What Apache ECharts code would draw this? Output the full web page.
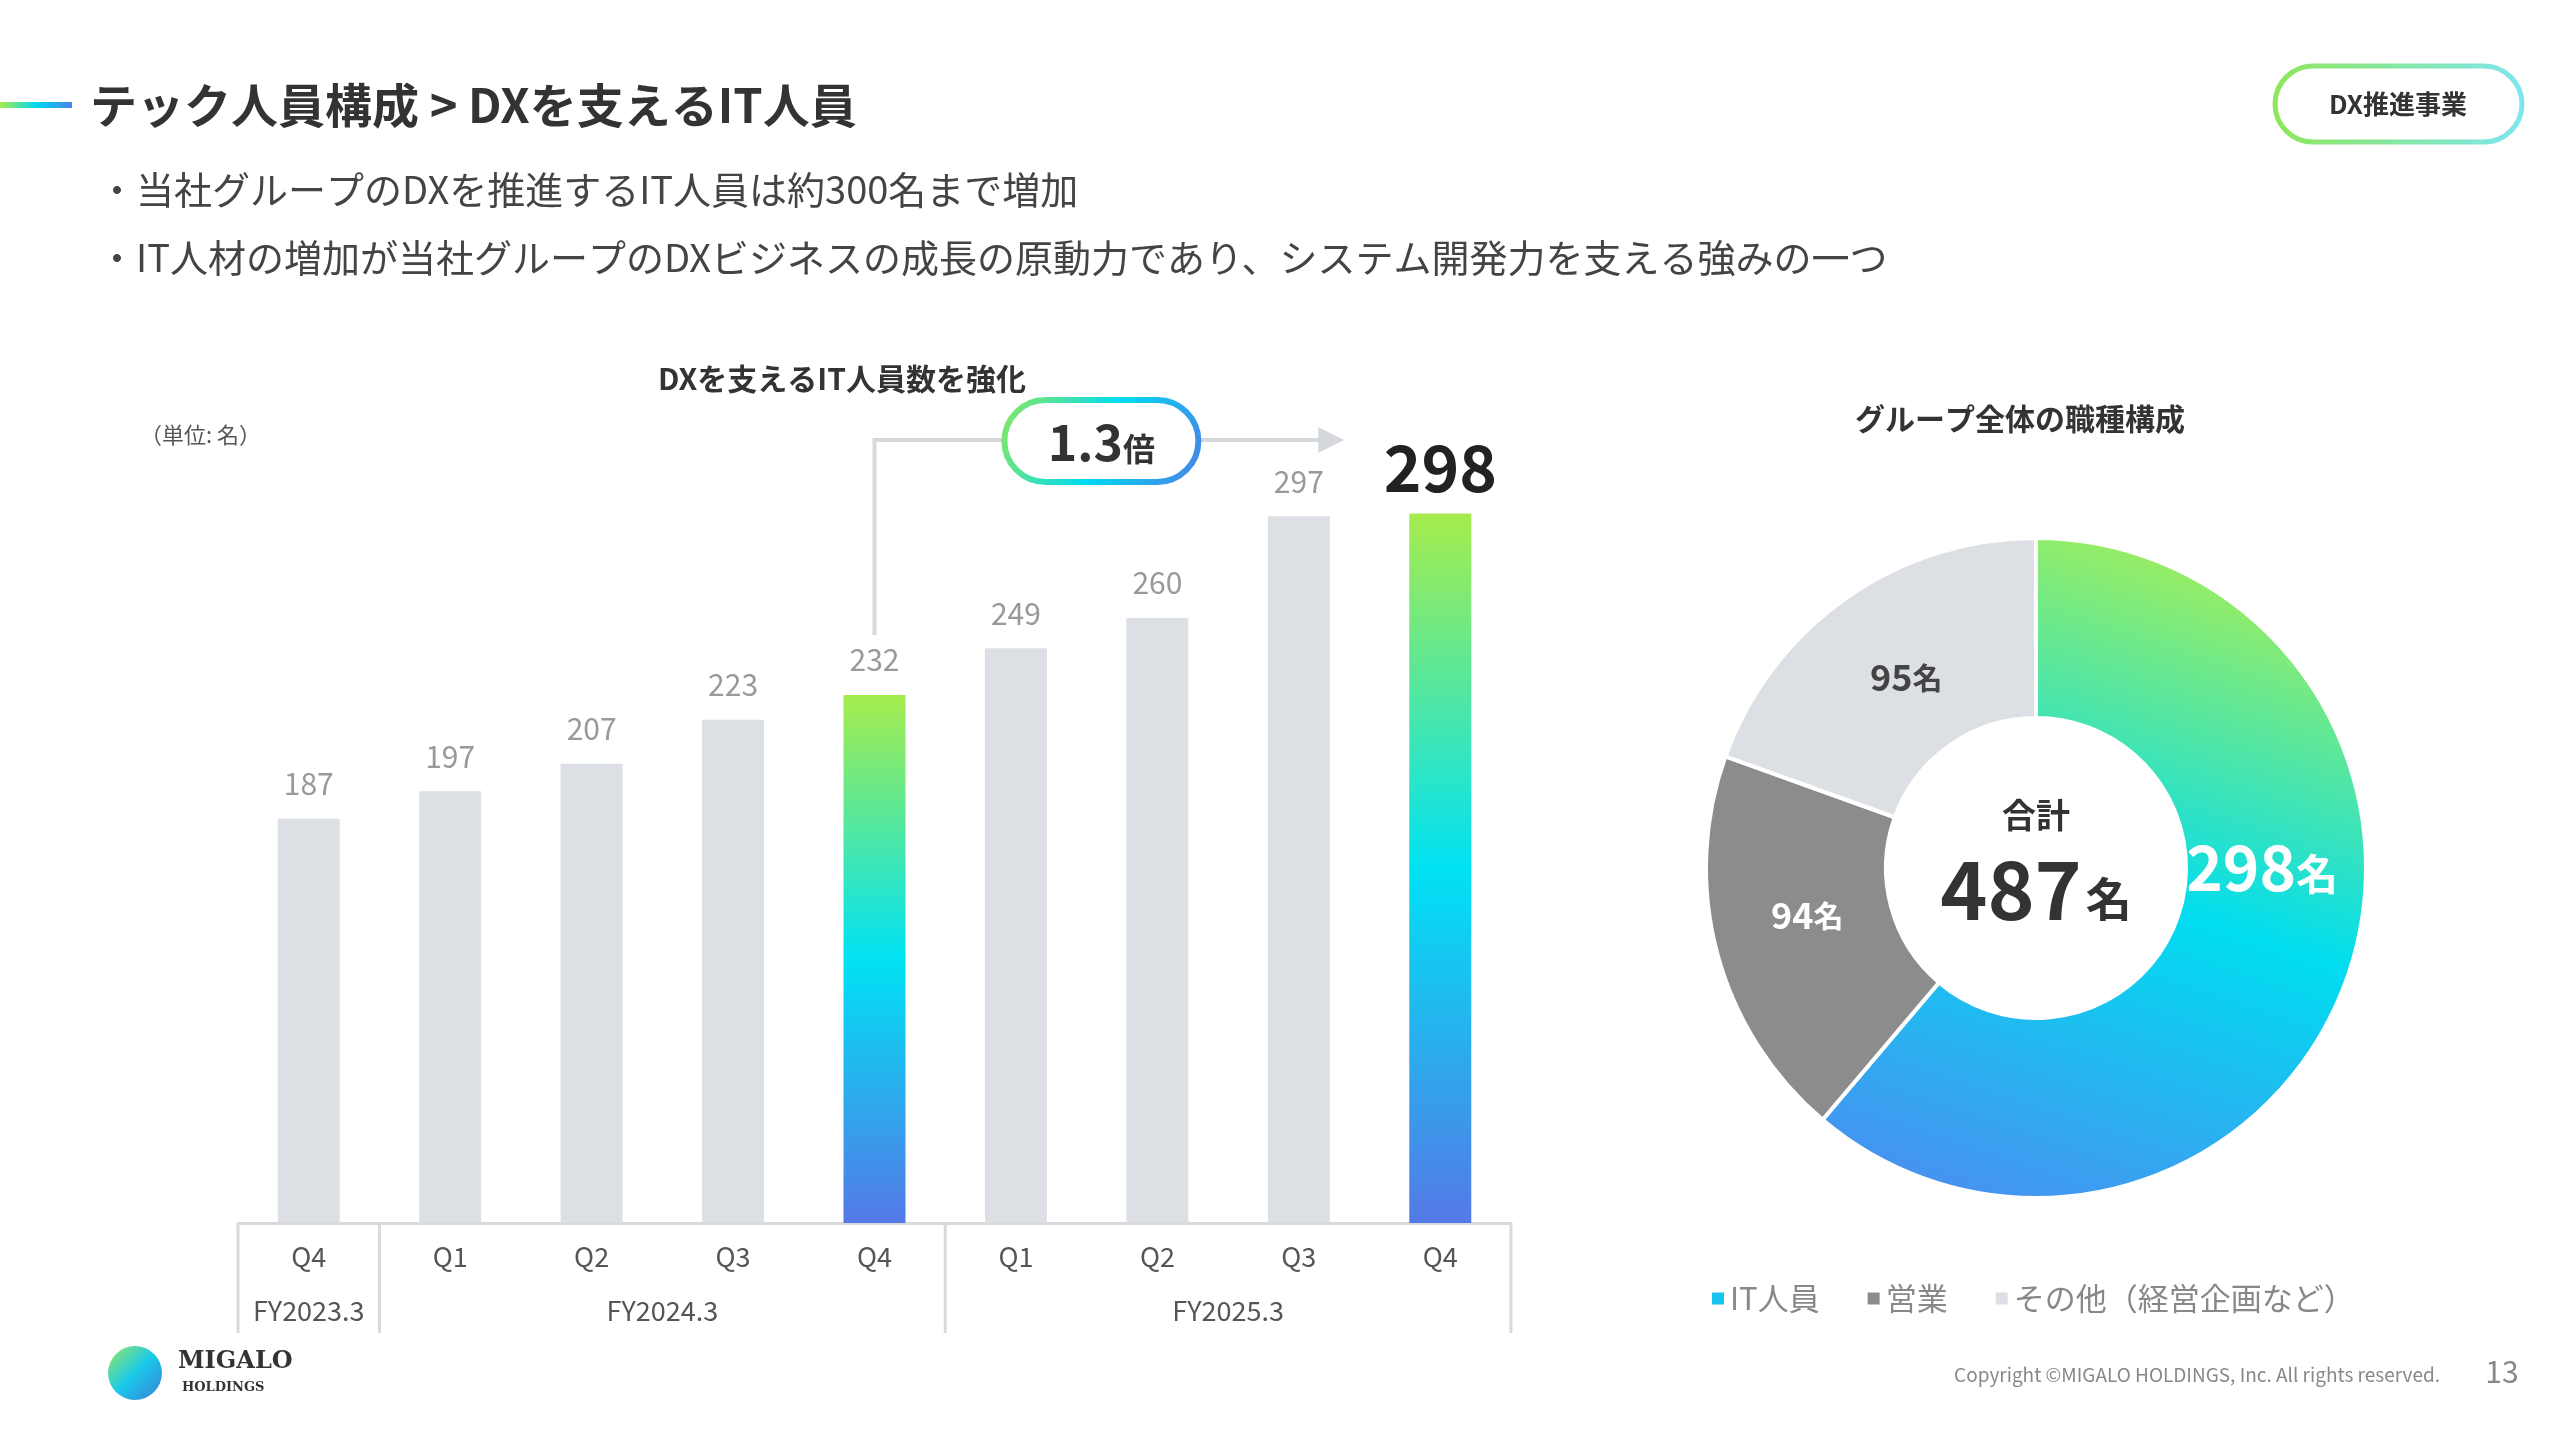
<!DOCTYPE html>
<html>
<head>
<meta charset="utf-8">
<script src="https://cdn.jsdelivr.net/npm/echarts@6/dist/echarts.min.js"></script>
<style>
  html, body { margin: 0; padding: 0; background: #fff; }
  #chart { width: 2560px; height: 1440px; }
</style>
</head>
<body>
<div id="chart"></div>
<script>
const quarters = ['Q4', 'Q1', 'Q2', 'Q3', 'Q4', 'Q1', 'Q2', 'Q3', 'Q4'];
const headcount = [187, 197, 207, 223, 232, 249, 260, 297, 298];
const highlighted = [4, 8];
const fiscalYears = ['FY2023.3', 'FY2024.3', 'FY2025.3'];
const fiscalSpans = [[0, 0], [1, 4], [5, 8]];
const roleNames = ['IT人員', '営業', 'その他（経営企画など）'];
const roleValues = [298, 94, 95];

const FONT = '"Noto Sans CJK JP", "Noto Sans", sans-serif';
const gray = '#dcdfe3';

const barGradient = new echarts.graphic.LinearGradient(0, 0, 0, 1, [
    { offset: 0, color: '#a6ec4c' },
    { offset: 0.5, color: '#00e2f4' },
    { offset: 1, color: '#5479e6' }
]);
const pieGradient = new echarts.graphic.LinearGradient(0.6, 0, 0.2, 1, [
    { offset: 0, color: '#a0ee5c' },
    { offset: 0.5, color: '#00ddf0' },
    { offset: 1, color: '#4a8ff0' }
]);

const chart = echarts.init(document.getElementById('chart'));

const barData = headcount.map((v, i) => {
    const item = { value: v };
    if (highlighted.includes(i)) item.itemStyle = { color: barGradient };
    if (i === headcount.length - 1) {
        item.label = { fontSize: 64, fontWeight: 'bold', color: '#222', distance: 14 };
    }
    return item;
});

const pieColors = [pieGradient, '#8c8c8c', gray];
const pieData = roleNames.map((n, i) => ({ name: n, value: roleValues[i], itemStyle: { color: pieColors[i] } }));

// per-slice label styles
const labelStyles = [
    { v: { fontSize: 62, fontWeight: 'bold', color: '#fff' }, u: { fontSize: 42, fontWeight: 'bold', color: '#fff', padding: [12, 0, 0, 0] } },
    { v: { fontSize: 36, fontWeight: 'bold', color: '#fff' }, u: { fontSize: 30, fontWeight: 'bold', color: '#fff' } },
    { v: { fontSize: 36, fontWeight: 'bold', color: '#444' }, u: { fontSize: 30, fontWeight: 'bold', color: '#444' } }
];
pieData.forEach((d, i) => { d.label = { rich: labelStyles[i] }; });
pieData[0].label.offset = [-2, -84];
pieData[1].label.offset = [6, -15];
pieData[2].label.offset = [10, 8];

const GRID_LEFT = 238, GRID_W = 1273;

const option = {
    animation: false,
    textStyle: { fontFamily: FONT },
    title: [
        {
            text: 'DXを支えるIT人員数を強化', left: 837, top: 374, textAlign: 'center', textVerticalAlign: 'middle',
            textStyle: { fontSize: 30, fontWeight: 'bold', color: '#333', fontFamily: FONT }
        },
        {
            text: 'グループ全体の職種構成', left: 2015, top: 414, textAlign: 'center', textVerticalAlign: 'middle',
            textStyle: { fontSize: 30, fontWeight: 'bold', color: '#333', fontFamily: FONT }
        }
    ],
    grid: { left: GRID_LEFT, width: GRID_W, top: 453, height: 770 },
    xAxis: {
        type: 'category',
        data: quarters,
        axisLine: { lineStyle: { color: '#d9d9d9', width: 3 } },
        axisTick: { show: false },
        axisLabel: { color: '#555', fontSize: 27, margin: 20, fontFamily: FONT }
    },
    yAxis: { type: 'value', min: 40, max: 320, show: false },
    legend: {
        left: 1705, top: 1278, itemWidth: 14, itemHeight: 14, itemGap: 46, icon: 'rect',
        textStyle: { fontSize: 31, color: '#888', fontFamily: FONT },
        data: [
            { name: roleNames[0], itemStyle: { color: '#16c4ee' } },
            { name: roleNames[1], itemStyle: { color: '#8c8c8c' } },
            { name: roleNames[2], itemStyle: { color: gray } }
        ]
    },
    series: [
        {
            type: 'bar',
            data: barData,
            barWidth: 62,
            itemStyle: { color: gray },
            label: { show: true, position: 'top', distance: 20, color: '#999', fontSize: 30, fontFamily: FONT }
        },
        {
            type: 'pie',
            center: [2036, 868],
            radius: [150, 330],
            startAngle: 90,
            clockwise: true,
            data: pieData,
            itemStyle: { borderColor: '#fff', borderWidth: 4 },
            labelLine: { show: false },
            label: {
                show: true, position: 'inside', fontFamily: FONT,
                formatter: p => '{v|' + p.value + '}{u|名}'
            },
            emphasis: { disabled: true }
        }
    ]
};

chart.setOption(option);

function px(x, v) { return chart.convertToPixel({ gridIndex: 0 }, [x, v]); }
const band = GRID_W / quarters.length;
function edgeX(b) { return GRID_LEFT + b * band; }

const g = [];
// slide header
g.push({ type: 'rect', shape: { x: 0, y: 102, width: 72, height: 6 },
    style: { fill: new echarts.graphic.LinearGradient(0, 0, 1, 0, [{ offset: 0, color: '#a6ec4c' }, { offset: 0.5, color: '#00d8f0' }, { offset: 1, color: '#4a84ea' }]) } });
g.push({ type: 'text', x: 90, y: 105, style: { text: 'テック人員構成 > DXを支えるIT人員', font: 'bold 47px ' + FONT, fill: '#333', verticalAlign: 'middle' } });
g.push({ type: 'text', x: 98, y: 190, style: { text: '・当社グループのDXを推進するIT人員は約300名まで増加', font: '38px ' + FONT, fill: '#444', verticalAlign: 'middle' } });
g.push({ type: 'text', x: 98, y: 258, style: { text: '・IT人材の増加が当社グループのDXビジネスの成長の原動力であり、システム開発力を支える強みの一つ', font: '38px ' + FONT, fill: '#444', verticalAlign: 'middle' } });
// badge
g.push({ type: 'rect', shape: { x: 2275, y: 66, width: 247, height: 76, r: 38 },
    style: { fill: '#fff', lineWidth: 5, stroke: new echarts.graphic.LinearGradient(0, 0, 1, 0, [{ offset: 0, color: '#8ee65a' }, { offset: 1, color: '#7ee6f0' }]) } });
g.push({ type: 'text', x: 2398, y: 104, style: { text: 'DX推進事業', font: 'bold 26px ' + FONT, fill: '#333', align: 'center', verticalAlign: 'middle' } });
// unit
g.push({ type: 'text', x: 140, y: 435, style: { text: '（単位: 名）', font: '22px ' + FONT, fill: '#555', verticalAlign: 'middle' } });

// fiscal-year row and separators
const yAxisPx = px(0, 40)[1];
const boxBottom = yAxisPx + 110;
[0, 1, 5, 9].forEach(b => {
    const x = edgeX(b);
    g.push({ type: 'line', shape: { x1: x, y1: yAxisPx, x2: x, y2: boxBottom }, style: { stroke: '#d9d9d9', lineWidth: 3 } });
});
fiscalYears.forEach((fy, i) => {
    const cx = (edgeX(fiscalSpans[i][0]) + edgeX(fiscalSpans[i][1] + 1)) / 2;
    g.push({ type: 'text', x: cx, y: yAxisPx + 88, style: { text: fy, font: '27px ' + FONT, fill: '#555', align: 'center', verticalAlign: 'middle' } });
});

// growth arrow from FY2024.3 Q4 to FY2025.3 Q4
const startBar = px(4, headcount[4]);
const endBar = px(8, headcount[8]);
const arrowY = 440;
const arrowEndX = endBar[0] - 96;
g.push({ type: 'polyline', shape: { points: [[startBar[0], startBar[1] - 60], [startBar[0], arrowY], [arrowEndX - 20, arrowY]] },
    style: { stroke: '#d5d8dc', lineWidth: 4, fill: null } });
g.push({ type: 'polygon', shape: { points: [[arrowEndX - 26, arrowY - 13], [arrowEndX, arrowY], [arrowEndX - 26, arrowY + 13]] }, style: { fill: '#d5d8dc' } });
const pillCx = (startBar[0] + arrowEndX) / 2 - 8;
g.push({ type: 'rect', shape: { x: pillCx - 97, y: arrowY - 40, width: 194, height: 82, r: 41 },
    style: { fill: '#fff', lineWidth: 6, stroke: new echarts.graphic.LinearGradient(0, 0, 1, 1, [{ offset: 0, color: '#8fe85c' }, { offset: 0.5, color: '#00dcf0' }, { offset: 1, color: '#4a7fe8' }]) } });
g.push({ type: 'text', x: pillCx, y: arrowY + 2, style: { text: '{n|1.3}{u|倍}', align: 'center', verticalAlign: 'middle',
    rich: { n: { font: 'bold 50px ' + FONT, fill: '#333' }, u: { font: 'bold 32px ' + FONT, fill: '#333', padding: [14, 0, 0, 0] } } } });

// donut centre
g.push({ type: 'text', x: 2036, y: 815, style: { text: '合計', font: 'bold 34px ' + FONT, fill: '#333', align: 'center', verticalAlign: 'middle' } });
g.push({ type: 'text', x: 2036, y: 890, style: { text: '{v|487}{u|名}', align: 'center', verticalAlign: 'middle',
    rich: { v: { font: 'bold 80px ' + FONT, fill: '#333' }, u: { font: 'bold 46px ' + FONT, fill: '#333', padding: [18, 0, 0, 4] } } } });

// footer
g.push({ type: 'circle', shape: { cx: 135, cy: 1373, r: 27 },
    style: { fill: new echarts.graphic.LinearGradient(0, 0, 1, 1, [{ offset: 0, color: '#9be860' }, { offset: 0.5, color: '#19c9e8' }, { offset: 1, color: '#3a7fd8' }]) } });
g.push({ type: 'text', x: 178, y: 1362, style: { text: 'MIGALO', font: 'bold 24px "DejaVu Serif", serif', fill: '#333', verticalAlign: 'middle' } });
g.push({ type: 'text', x: 182, y: 1388, style: { text: 'HOLDINGS', font: 'bold 13px "DejaVu Serif", serif', fill: '#333', verticalAlign: 'middle' } });
g.push({ type: 'text', x: 2440, y: 1375, style: { text: 'Copyright ©MIGALO HOLDINGS, Inc. All rights reserved.', font: '19px ' + FONT, fill: '#888', align: 'right', verticalAlign: 'middle' } });
g.push({ type: 'text', x: 2502, y: 1372, style: { text: '13', font: '30px ' + FONT, fill: '#888', align: 'center', verticalAlign: 'middle' } });

chart.setOption({ graphic: g });
</script>
</body>
</html>
